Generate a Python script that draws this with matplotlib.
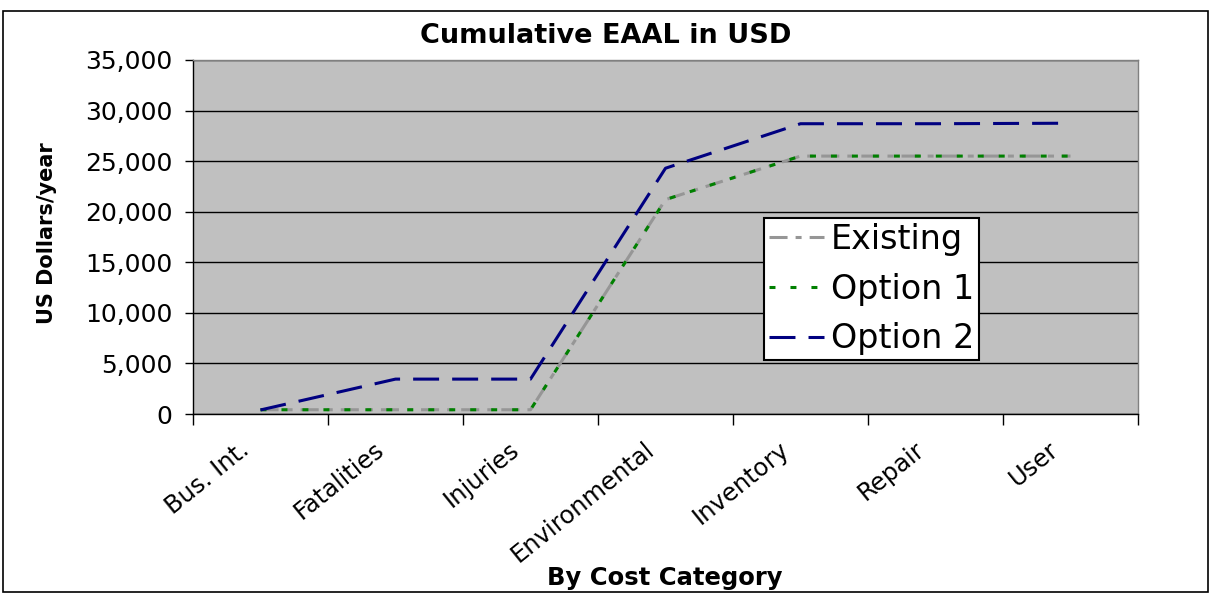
import matplotlib
matplotlib.use("Agg")
import matplotlib.pyplot as plt
import matplotlib.transforms as mtransforms
from matplotlib.patches import Rectangle
import numpy as np

categories = ["Bus. Int.", "Fatalities", "Injuries", "Environmental", "Inventory", "Repair", "User"]
existing = [420, 420, 420, 21200, 25500, 25500, 25500]
option1 = [420, 420, 420, 21200, 25500, 25500, 25500]
option2 = [400, 3450, 3450, 24300, 28700, 28700, 28750]
yticks = [0, 5000, 10000, 15000, 20000, 25000, 30000, 35000]

plt.rcParams['font.family'] = ['DejaVu Sans']
plt.rcParams['lines.scale_dashes'] = False

fig = plt.figure(figsize=(12.11, 5.95), dpi=100)
fig.patches.append(Rectangle((3/1211, 1 - 592/595), 1205/1211, 581/595,
                             transform=fig.transFigure, fill=False, edgecolor='black', lw=1.2))
ax = fig.add_axes([193/1211, 1 - 414/595, (1138-193)/1211, (414-60)/595])
ax.set_facecolor('#C0C0C0')

x = np.arange(len(categories))
lw = 2.2
ax.plot(x, existing, color='#969696', lw=lw, dashes=(13, 5.8, 4.3, 5.8), label='Existing', zorder=3)
ax.plot(x, option1, color='#008000', lw=lw, dashes=(4.3, 10.8), label='Option 1', zorder=4)
ax.plot(x, option2, color='#000080', lw=lw, dashes=(18.7, 9.4), label='Option 2', zorder=5)

ax.set_xlim(-0.5, len(categories) - 0.5)
ax.set_ylim(0, 35000)
ax.set_yticks(yticks)
ax.set_yticklabels([f"{v:,}" for v in yticks], fontsize=18)
ax.yaxis.grid(True, color='black', lw=1)
ax.set_axisbelow(True)
ax.set_xticks(x)
ax.set_xticklabels(categories, rotation=39, ha='right', rotation_mode='anchor', fontsize=17.5)
ax.tick_params(axis='x', length=0, pad=17)
ax.set_xticks(np.arange(-0.5, len(categories)), minor=True)
ax.tick_params(axis='x', which='minor', length=8, width=1, direction='out')
ax.tick_params(axis='y', length=6, width=1, direction='out', pad=9)
offset = mtransforms.ScaledTranslation(-22/100, 0, fig.dpi_scale_trans)
for lab in ax.get_xticklabels():
    lab.set_transform(lab.get_transform() + offset)
for s in ax.spines.values():
    s.set_color('black')
    s.set_linewidth(1)
ax.spines['top'].set_color('#808080')
ax.spines['right'].set_color('#808080')

fig.text(0.5, 1 - 36/595, "Cumulative EAAL in USD", fontsize=19.5, fontweight='bold',
         ha='center', va='center')
fig.text(47/1211, 1 - 233/595, "US Dollars/year", fontsize=15, fontweight='bold',
         ha='center', va='center', rotation=90)
fig.text(665/1211, 1 - 578/595, "By Cost Category", fontsize=17.5, fontweight='bold',
         ha='center', va='center')

leg = ax.legend(loc='upper left', bbox_to_anchor=((764-193)/945, 1 - (218-60)/354),
                fontsize=24, frameon=True, fancybox=False, edgecolor='black',
                handlelength=1.65, handletextpad=0.2, borderpad=0.15, labelspacing=0.5,
                borderaxespad=0)
leg.get_frame().set_linewidth(1.5)
leg.get_frame().set_facecolor('white')
leg.get_frame().set_alpha(1)

fig.savefig("out.png", dpi=100)
